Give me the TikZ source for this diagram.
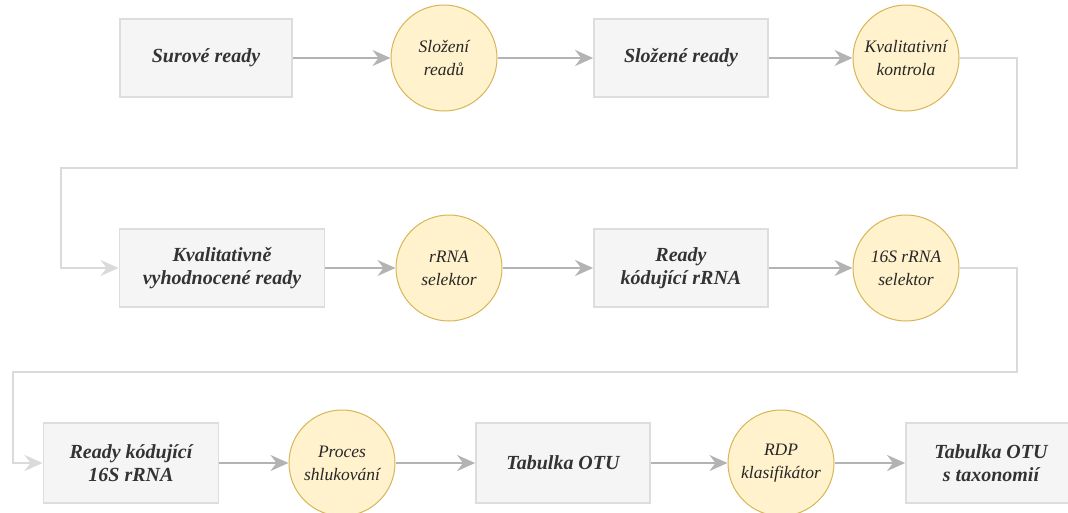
\documentclass[tikz,border=0pt]{standalone}
\usepackage{fontspec}
\setmainfont{Liberation Serif}
\usepackage{tikz}
\usetikzlibrary{arrows.meta,positioning}

\definecolor{boxfill}{HTML}{F5F5F5}
\definecolor{boxline}{HTML}{DDDDDD}
\definecolor{procfill}{HTML}{FFF2CC}
\definecolor{procline}{HTML}{D6B656}
\definecolor{flowgray}{HTML}{B3B3B3}
\definecolor{backgray}{HTML}{DADADA}
\definecolor{txt}{HTML}{333333}

\begin{document}
\begin{tikzpicture}[
  x=1pt, y=-1pt,
  data/.style={draw=boxline, fill=boxfill, line width=1.8pt, align=center,
    minimum width=172pt, minimum height=78pt, text=txt,
    font=\fontsize{20}{23}\selectfont\bfseries\itshape},
  proc/.style={circle, draw=procline, fill=procfill, line width=1pt,
    align=center, minimum size=106pt, inner sep=0pt, text=black!85,
    font=\fontsize{17.5}{23}\selectfont\itshape},
  flow/.style={-{Stealth[length=18pt, width=16pt, inset=6pt]}, line width=2.2pt,
    draw=flowgray},
  back/.style={-{Stealth[length=18pt, width=16pt, inset=6pt]}, line width=2pt,
    draw=backgray}
]
\useasboundingbox (0,0) rectangle (1068,512);

% row 1
\node[data] (b1) at (206,58) {Surové ready};
\node[proc] (c1) at (444,58) {Složení\\ readů};
\node[data, minimum width=174pt] (b2) at (681,58) {Složené ready};
\node[proc] (c2) at (906,58) {Kvalitativní\\ kontrola};

% row 2
\node[data, minimum width=205pt] (b3) at (222,268) {Kvalitativně\\ vyhodnocené ready};
\node[proc] (c3) at (449,268) {rRNA\\ selektor};
\node[data, minimum width=174pt] (b4) at (681,268) {Ready\\ kódující rRNA};
\node[proc] (c4) at (906,268) {16S rRNA\\ selektor};

% row 3
\node[data, minimum width=175pt, minimum height=80pt] (b5) at (131,463) {Ready kódující\\ 16S rRNA};
\node[proc] (c5) at (342,463) {Proces\\ shlukování};
\node[data, minimum width=174pt, minimum height=80pt] (b6) at (563,463) {Tabulka OTU};
\node[proc] (c6) at (781,463) {RDP\\ klasifikátor};
\node[data, minimum width=170pt, minimum height=80pt] (b7) at (991,463) {Tabulka OTU\\ s taxonomií};

\draw[flow] (b1) -- (c1);
\draw[flow] (c1) -- (b2);
\draw[flow] (b2) -- (c2);
\draw[back] (c2.east) -- ++(57,0) -- ++(0,110) -- ++(-956,0) |- (b3.west);
\draw[flow] (b3) -- (c3);
\draw[flow] (c3) -- (b4);
\draw[flow] (b4) -- (c4);
\draw[back] (c4.east) -- ++(57,0) -- ++(0,104) -- ++(-1004,0) |- (b5.west);
\draw[flow] (b5) -- (c5);
\draw[flow] (c5) -- (b6);
\draw[flow] (b6) -- (c6);
\draw[flow] (c6) -- (b7);
\end{tikzpicture}
\end{document}
